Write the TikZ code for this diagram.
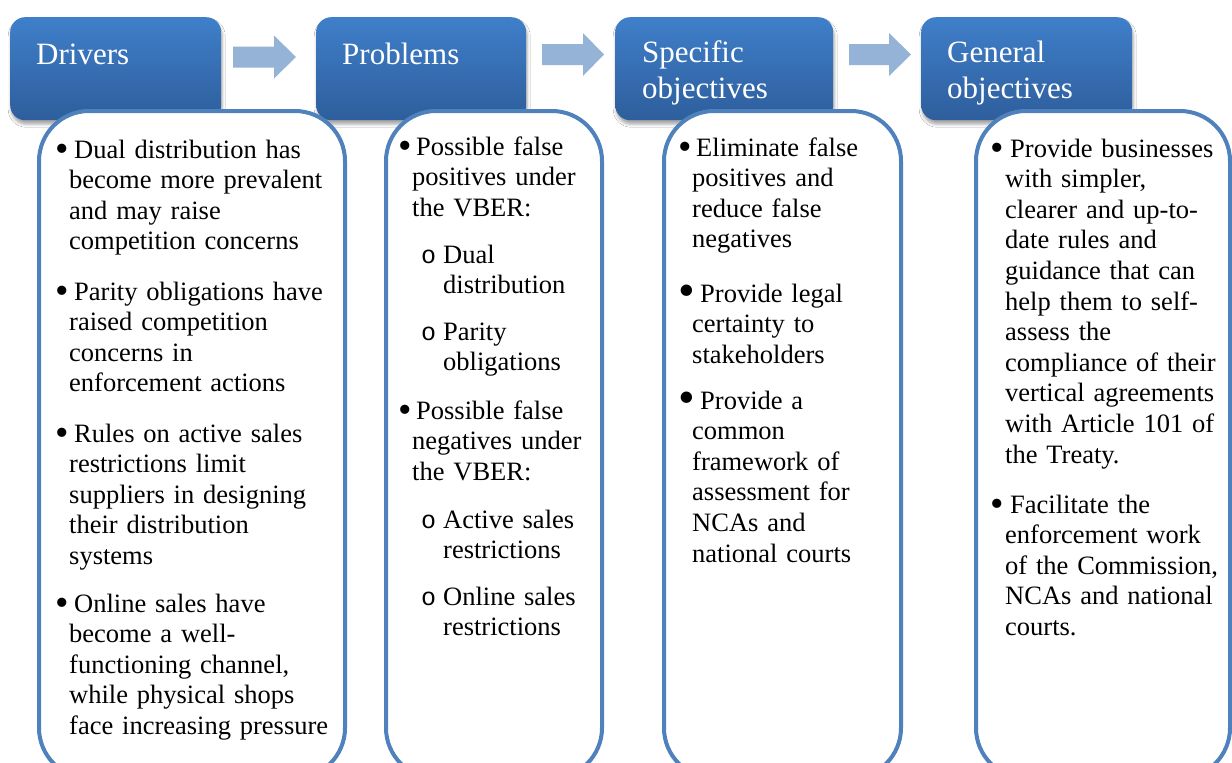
\documentclass[tikz,border=0pt]{standalone}
\usepackage{fontspec}
\setmainfont{Liberation Serif}
\newfontfamily\submono{Liberation Mono}
\usetikzlibrary{shadows.blur}
\definecolor{hdrtop}{RGB}{63,127,202}
\definecolor{hdrbot}{RGB}{46,94,156}
\definecolor{boxline}{RGB}{79,129,189}
\definecolor{arrowfill}{RGB}{149,179,215}
\newcommand\fb[1]{\makebox[#1][l]{\raisebox{-3pt}{\scalebox{1.45}{\textbullet}}}}
\newcommand\bigb[1]{\makebox[#1][l]{\raisebox{-4.5pt}{\scalebox{1.8}{\textbullet}}}}
\newcommand\subo{\makebox[22pt][l]{\submono\fontsize{25}{25}\selectfont o}}
\newcommand\ind[1]{\\\hspace*{#1}}
\tikzset{
  hdrbox/.style={rounded corners=15pt, top color=hdrtop, bottom color=hdrbot,
    draw=none, inner sep=0pt, anchor=north west,
    blur shadow={shadow xshift=1pt, shadow yshift=-4pt, shadow blur radius=3pt, shadow opacity=35}},
  hdrtext/.style={anchor=base west, inner sep=0pt, text width=200pt, align=left,
    text=white, font=\fontsize{31}{36}\selectfont},
  bodybox/.style={rounded corners=50pt, draw=boxline, line width=4pt, fill=white,
    inner sep=0pt, anchor=north west},
  para/.style={anchor=base west, inner sep=0pt, text width=300pt, align=left,
    font=\fontsize{26.5}{30.6}\selectfont},
  arrowshape/.style={fill=arrowfill, draw=none}
}
\newcommand\blockarrow[4]{% x0, xbase, xtip, ycenter
  \fill[arrowshape] (#1,#4-10.5) -- (#2,#4-10.5) -- (#2,#4-21.5) -- (#3,#4)
    -- (#2,#4+21.5) -- (#2,#4+10.5) -- (#1,#4+10.5) -- cycle;}
\begin{document}
\begin{tikzpicture}[x=1pt,y=-1pt]
\useasboundingbox (0,0) rectangle (1232,763);
\clip (0,0) rectangle (1232,763);
\fill[white] (0,0) rectangle (1232,763);

% headers
\node[hdrbox, minimum width=211pt, minimum height=103pt] (h1) at (10,17) {};
\node[hdrbox, minimum width=210pt, minimum height=103pt] (h2) at (316,17) {};
\node[hdrbox, minimum width=218pt, minimum height=103pt] (h3) at (615,17) {};
\node[hdrbox, minimum width=211pt, minimum height=103pt] (h4) at (921,17) {};

% arrows
\blockarrow{233}{274}{296}{57}
\blockarrow{542}{583}{604}{54.5}
\blockarrow{849}{889}{911}{54.5}

% header titles
\node[hdrtext] (t1) at (36,64) {Drivers};
\node[hdrtext] (t2) at (342,64) {Problems};
\node[hdrtext] (t3) at (642,62) {Specific\\objectives};
\node[hdrtext] (t4) at (947,62) {General\\objectives};

% body boxes
\node[bodybox, minimum width=306pt, minimum height=667pt] (b1) at (37,109) {};
\node[bodybox, minimum width=216pt, minimum height=667pt] (b2) at (384,109) {};
\node[bodybox, minimum width=237pt, minimum height=667pt] (b3) at (662,109) {};
\node[bodybox, minimum width=254pt, minimum height=667pt] (b4) at (974,109) {};

% Drivers
\node[para] (d1) at (55,158) {\fb{19pt}Dual distribution has\ind{14pt}become more prevalent\ind{14pt}and may raise\ind{14pt}competition concerns};
\node[para] (d2) at (55,300) {\fb{19pt}Parity obligations have\ind{14pt}raised competition\ind{14pt}concerns in\ind{14pt}enforcement actions};
\node[para] (d3) at (55,442) {\fb{19pt}Rules on active sales\ind{14pt}restrictions limit\ind{14pt}suppliers in designing\ind{14pt}their distribution\ind{14pt}systems};
\node[para] (d4) at (55,612) {\fb{19pt}Online sales have\ind{14pt}become a well-\ind{14pt}functioning channel,\ind{14pt}while physical shops\ind{14pt}face increasing pressure};

% Problems
\node[para] (p1) at (398,155) {\fb{18pt}Possible false\ind{14pt}positives under\ind{14pt}the VBER:};
\node[para] (p2) at (421,263) {\subo Dual\ind{22pt}distribution};
\node[para] (p3) at (421,340) {\subo Parity\ind{22pt}obligations};
\node[para] (p4) at (398,419) {\fb{18pt}Possible false\ind{14pt}negatives under\ind{14pt}the VBER:};
\node[para] (p5) at (421,528) {\subo Active sales\ind{22pt}restrictions};
\node[para] (p6) at (421,605) {\subo Online sales\ind{22pt}restrictions};

% Specific objectives
\node[para] (s1) at (678,156) {\fb{18pt}Eliminate false\ind{14pt}positives and\ind{14pt}reduce false\ind{14pt}negatives};
\node[para] (s2) at (678,302) {\bigb{22pt}Provide legal\ind{14pt}certainty to\ind{14pt}stakeholders};
\node[para] (s3) at (678,409) {\bigb{22pt}Provide a\ind{14pt}common\ind{14pt}framework of\ind{14pt}assessment for\ind{14pt}NCAs and\ind{14pt}national courts};

% General objectives
\node[para] (g1) at (990,157) {\fb{20pt}Provide businesses\ind{15pt}with simpler,\ind{15pt}clearer and up-to-\ind{15pt}date rules and\ind{15pt}guidance that can\ind{15pt}help them to self-\ind{15pt}assess the\ind{15pt}compliance of their\ind{15pt}vertical agreements\ind{15pt}with Article 101 of\ind{15pt}the Treaty.};
\node[para] (g2) at (990,513) {\fb{20pt}Facilitate the\ind{15pt}enforcement work\ind{15pt}of the Commission,\ind{15pt}NCAs and national\ind{15pt}courts.};
\end{tikzpicture}
\end{document}
